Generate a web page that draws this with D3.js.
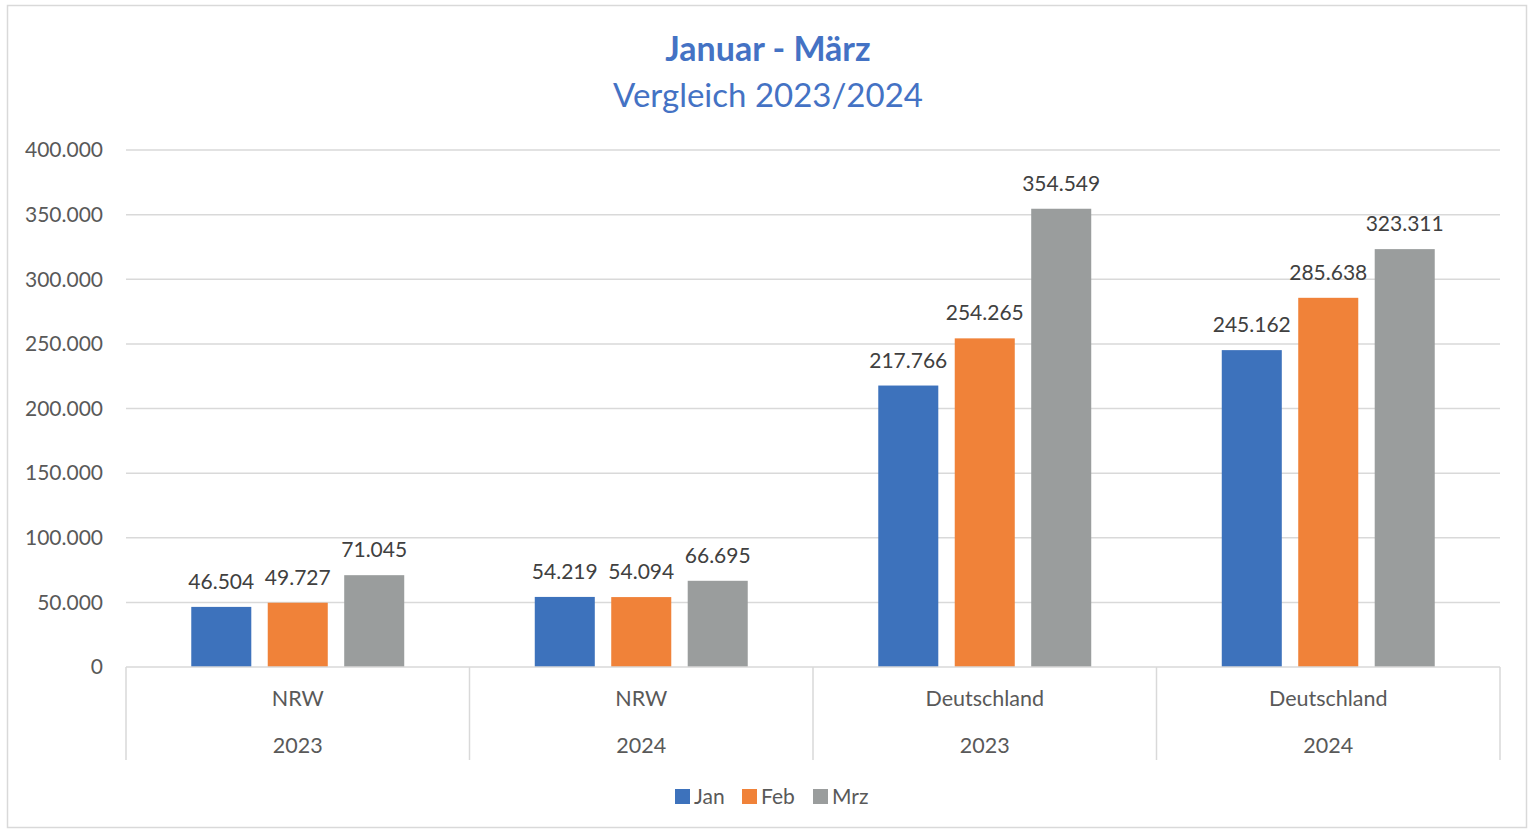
<!DOCTYPE html>
<html lang="de">
<head>
    <title>Januar - März</title>
    <meta charset="utf-8">
    <script src="https://d3js.org/d3.v7.min.js"></script>
    <style>
        body { margin: 0; background: #fff; }
        svg text { font-family: Lato, "Open Sans", sans-serif; }
    </style>
</head>
<body>
<div id="chart"></div>
<script>
    // Data
    const regions = ["NRW", "NRW", "Deutschland", "Deutschland"];
    const years = ["2023", "2024", "2023", "2024"];
    const months = ["Jan", "Feb", "Mrz"];
    const jan = [46504, 54219, 217766, 245162];
    const feb = [49727, 54094, 254265, 285638];
    const mrz = [71045, 66695, 354549, 323311];
    const yTicks = [0, 50000, 100000, 150000, 200000, 250000, 300000, 350000, 400000];

    const colors = {Jan: "#3d72bc", Feb: "#f08239", Mrz: "#9a9d9d"};
    const series = {Jan: jan, Feb: feb, Mrz: mrz};

    const groups = regions.map((r, i) => ({
        key: i, region: r, year: years[i],
        values: months.map(m => ({month: m, value: series[m][i]}))
    }));

    const de = d3.formatLocale({decimal: ",", thousands: ".", grouping: [3], currency: ["", "€"]});
    const fmt = de.format(",");

    const W = 1529, H = 830;
    const margin = {top: 150, right: 29, bottom: 163, left: 126};
    const width = W - margin.left - margin.right,
        height = H - margin.top - margin.bottom;

    const svg = d3.select("#chart").append("svg")
        .attr("width", W).attr("height", H);

    // Outer frame
    svg.append("rect")
        .attr("x", 7.5).attr("y", 5.5)
        .attr("width", 1519).attr("height", 822)
        .attr("fill", "none").attr("stroke", "#d9d9d9").attr("stroke-width", 1.5);

    // Title
    svg.append("text")
        .attr("x", 768).attr("y", 61)
        .attr("text-anchor", "middle")
        .attr("font-size", 34).attr("font-weight", "bold")
        .attr("fill", "#4472c4")
        .text("Januar - März");
    svg.append("text")
        .attr("x", 768).attr("y", 107)
        .attr("text-anchor", "middle")
        .attr("font-size", 33)
        .attr("fill", "#4472c4")
        .text("Vergleich 2023/2024");

    const g = svg.append("g")
        .attr("transform", `translate(${margin.left},${margin.top})`);

    const y = d3.scaleLinear().domain([0, 400000]).range([height, 0]);
    const x0 = d3.scaleBand().domain(groups.map(d => d.key)).range([0, width]);
    const bw = x0.bandwidth();
    const x1 = d3.scaleBand().domain(months)
        .range([bw * 0.19, bw * 0.81]).paddingInner(0.215);

    // Gridlines
    g.selectAll("line.grid")
        .data(yTicks.filter(t => t > 0))
        .join("line")
        .attr("x1", 0).attr("x2", width)
        .attr("y1", d => y(d)).attr("y2", d => y(d))
        .attr("stroke", "#d9d9d9").attr("stroke-width", 1.5);

    // Y axis labels
    g.selectAll("text.ytick")
        .data(yTicks)
        .join("text")
        .attr("x", -23).attr("y", d => y(d))
        .attr("dy", "0.35em")
        .attr("text-anchor", "end")
        .attr("font-size", 21)
        .attr("fill", "#595959")
        .text(d => fmt(d));

    // Bars
    const grp = g.selectAll("g.group")
        .data(groups)
        .join("g")
        .attr("transform", d => `translate(${x0(d.key)},0)`);

    grp.selectAll("rect")
        .data(d => d.values)
        .join("rect")
        .attr("x", d => x1(d.month))
        .attr("y", d => y(d.value))
        .attr("width", x1.bandwidth())
        .attr("height", d => height - y(d.value))
        .attr("fill", d => colors[d.month]);

    grp.selectAll("text.val")
        .data(d => d.values)
        .join("text")
        .attr("x", d => x1(d.month) + x1.bandwidth() / 2)
        .attr("y", d => y(d.value) - 18)
        .attr("text-anchor", "middle")
        .attr("font-size", 21)
        .attr("fill", "#404040")
        .text(d => fmt(d.value));

    // Category axis
    g.append("line")
        .attr("x1", 0).attr("x2", width)
        .attr("y1", height).attr("y2", height)
        .attr("stroke", "#d9d9d9").attr("stroke-width", 1.5);

    const bounds = groups.map(d => x0(d.key)).concat([width]);
    g.selectAll("line.sep")
        .data(bounds)
        .join("line")
        .attr("x1", d => d).attr("x2", d => d)
        .attr("y1", height).attr("y2", height + 93)
        .attr("stroke", "#d9d9d9").attr("stroke-width", 1.5);

    grp.append("text")
        .attr("x", bw / 2).attr("y", height + 31)
        .attr("dy", "0.35em")
        .attr("text-anchor", "middle")
        .attr("font-size", 21.5)
        .attr("fill", "#595959")
        .text(d => d.region);

    grp.append("text")
        .attr("x", bw / 2).attr("y", height + 78)
        .attr("dy", "0.35em")
        .attr("text-anchor", "middle")
        .attr("font-size", 21.5)
        .attr("fill", "#595959")
        .text(d => d.year);

    // Legend
    const legendX = [675, 742, 813];
    const legend = svg.selectAll("g.legend")
        .data(months)
        .join("g")
        .attr("transform", (d, i) => `translate(${legendX[i]},789)`);
    legend.append("rect")
        .attr("width", 15).attr("height", 15)
        .attr("fill", d => colors[d]);
    legend.append("text")
        .attr("x", 19).attr("y", 7.5)
        .attr("dy", "0.35em")
        .attr("font-size", 21)
        .attr("fill", "#595959")
        .text(d => d);
</script>
</body>
</html>
